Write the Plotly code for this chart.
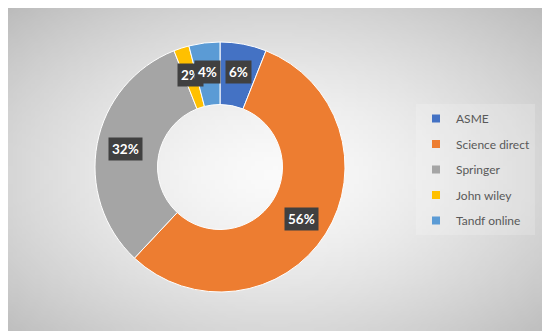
import math, zlib, struct, base64
import plotly.graph_objects as go

labels = ["ASME", "Science direct", "Springer", "John wiley", "Tandf online"]
values = [6, 56, 32, 2, 4]
colors = ["#4472C4", "#ED7D31", "#A5A5A5", "#FFC000", "#5B9BD5"]

# page body has an 8px default margin; lay out in screen pixels and convert
OFF = 8
W, H = 542, 328
def px_x(sx):
    return (sx - OFF) / W
def px_y(sy):
    return 1 - (sy - OFF) / H

# ---- radial gradient background as a small PNG ----
def gradient_png(w, h):
    raw = bytearray()
    for j in range(h):
        raw.append(0)
        for i in range(w):
            dx = (i + 0.5) / w - 0.5
            dy = (j + 0.5) / h - 0.52
            d = math.sqrt((dx / 0.5) ** 2 + (dy / 0.5) ** 2) / math.sqrt(2)
            v = int(round(250 - 62 * d ** 1.5))
            raw += bytes((v, v, v))
    def chunk(t, data):
        c = struct.pack(">I", len(data)) + t + data
        return c + struct.pack(">I", zlib.crc32(t + data) & 0xffffffff)
    png = b"\x89PNG\r\n\x1a\n"
    png += chunk(b"IHDR", struct.pack(">IIBBBBB", w, h, 8, 2, 0, 0, 0))
    png += chunk(b"IDAT", zlib.compress(bytes(raw), 9))
    png += chunk(b"IEND", b"")
    return "data:image/png;base64," + base64.b64encode(png).decode()

bg = gradient_png(120, 72)

# pie geometry (screen pixels)
cx, cy, R = 220, 167, 125

fig = go.Figure(go.Pie(
    labels=labels, values=values, hole=0.5, sort=False,
    direction="clockwise", rotation=0,
    marker=dict(colors=colors, line=dict(color="white", width=1)),
    textinfo="none", hoverinfo="label+percent", showlegend=False,
    domain=dict(x=[px_x(cx - R), px_x(cx + R)], y=[px_y(cy + R), px_y(cy - R)]),
))

# legend entries (one per category, so they can be spaced apart)
for lab, col in zip(labels, colors):
    fig.add_trace(go.Scatter(
        x=[None], y=[None], mode="markers", name=lab, legendgroup=lab,
        marker=dict(symbol="square", size=8, color=col), hoverinfo="skip",
    ))

# data labels (dark boxes) placed at mid-angle of each slice
total = sum(values)
annotations = []
cum = 0
for v in values:
    mid = (cum + v / 2) / total * 2 * math.pi
    cum += v
    r = 0.77 * R
    sx = cx + r * math.sin(mid)
    sy = cy - r * math.cos(mid)
    annotations.append(dict(
        x=px_x(sx), y=px_y(sy), xref="paper", yref="paper",
        text=f"<b>{round(v / total * 100)}%</b>", showarrow=False,
        font=dict(color="white", size=13.5, family="Lato"),
        bgcolor="#404040", borderpad=3, xanchor="center", yanchor="middle",
    ))

fig.update_layout(
    width=W, height=H, margin=dict(l=0, r=0, t=0, b=0),
    paper_bgcolor="white", plot_bgcolor="rgba(0,0,0,0)",
    xaxis=dict(visible=False), yaxis=dict(visible=False),
    images=[dict(source=bg, xref="paper", yref="paper",
                 x=px_x(6), y=px_y(5), sizex=(545 - 6) / W, sizey=(331 - 5) / H,
                 sizing="stretch", layer="below", xanchor="left", yanchor="top")],
    annotations=annotations,
    showlegend=True,
    legend=dict(x=px_x(416), y=px_y(104), xanchor="left", yanchor="top",
                font=dict(family="Lato", size=12, color="#595959"),
                bgcolor="rgba(255,255,255,0.18)", tracegroupgap=6.5,
                traceorder="grouped", itemclick=False, itemdoubleclick=False),
    font=dict(family="Lato"),
)

fig.write_html("out.html")
